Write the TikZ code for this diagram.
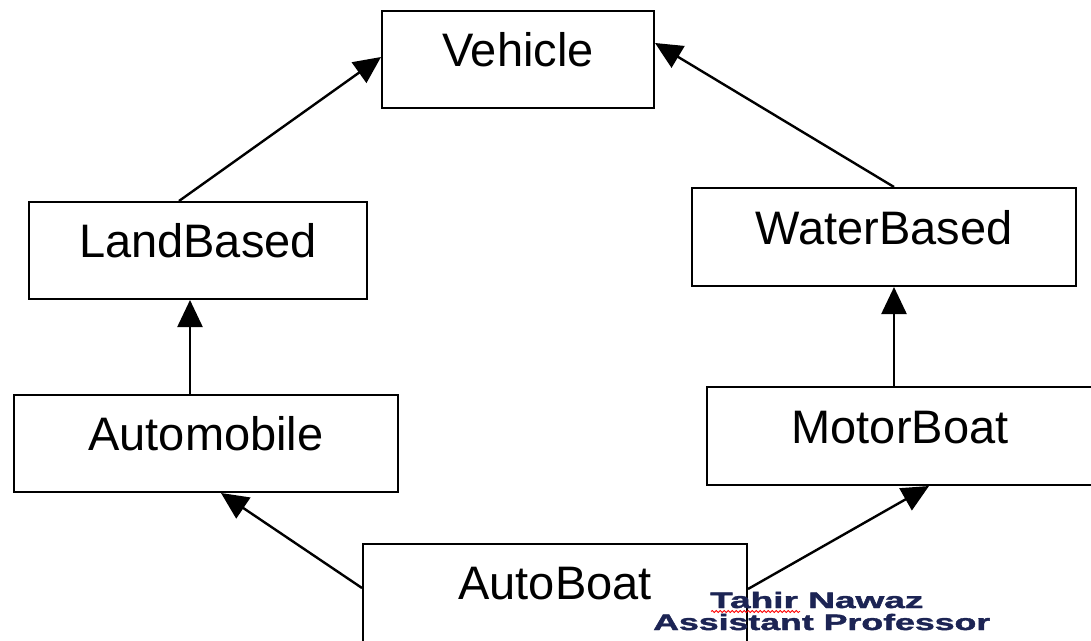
\documentclass[tikz,border=0pt]{standalone}
\usepackage{fontspec}
\usepackage{graphicx}
\setmainfont{Liberation Sans}
\newfontfamily\wmfont[FakeBold=1.5]{Liberation Sans Bold}
\usetikzlibrary{arrows.meta,decorations.pathmorphing}
\definecolor{wmblue}{RGB}{28,36,84}
\tikzset{
  cls/.style={draw=black, line width=2pt, fill=white, rectangle, inner sep=0pt,
    minimum height=97pt, text height=33pt, text depth=19pt,
    font=\fontsize{47}{52}\selectfont},
  inh/.style={draw=black, line width=2.4pt, -{Triangle[length=27pt,width=25pt]}},
  wm/.style={anchor=base west, inner sep=0pt, text=wmblue,
    font=\wmfont\fontsize{22.3}{24}\selectfont}
}
\begin{document}
\begin{tikzpicture}[x=1pt,y=-1pt]
\useasboundingbox (0,0) rectangle (1091,640);
\clip (0,0) rectangle (1091,640);
% boxes
\node[cls, minimum width=272pt] (V)  at (518,59.5)  {Vehicle};
\node[cls, minimum width=338pt] (LB) at (198,250.5) {LandBased};
\node[cls, minimum width=384pt] (AM) at (206,443.5) {Automobile};
\node[cls, minimum width=384pt, minimum height=98pt] (WB) at (884,237) {WaterBased};
\node[cls, minimum width=386pt, minimum height=98pt] (MB) at (900,436) {MotorBoat};
\node[cls, minimum width=384pt, minimum height=100pt, text depth=23pt] (AB) at (555,594) {AutoBoat};
% connectors
\draw[inh] ([xshift=-19pt]LB.north) -- ([yshift=2.5pt]V.west);
\draw[inh] ([xshift=10pt]WB.north) -- ([yshift=16.5pt]V.east);
\draw[inh] ([xshift=-16pt]AM.north) -- ([xshift=-8pt]LB.south);
\draw[inh] ([xshift=-6pt]MB.north) -- ([xshift=10pt]WB.south);
\draw[inh] ([yshift=6pt]AB.west) -- ([xshift=15pt]AM.south);
\draw[inh] ([yshift=5pt]AB.east) -- ([xshift=29pt]MB.south);
% watermark
\node[wm] (wm1) at (710,608) {\scalebox{1.66}[1]{Tahir Nawaz}};
\node[wm] (wm2) at (653,630) {\scalebox{1.60}[1]{Assistant Professor}};
\draw[red, line width=0.8pt, decorate, decoration={snake, amplitude=1pt, segment length=4pt}]
  (711,611.5) -- (800,611.5);
\end{tikzpicture}
\end{document}
